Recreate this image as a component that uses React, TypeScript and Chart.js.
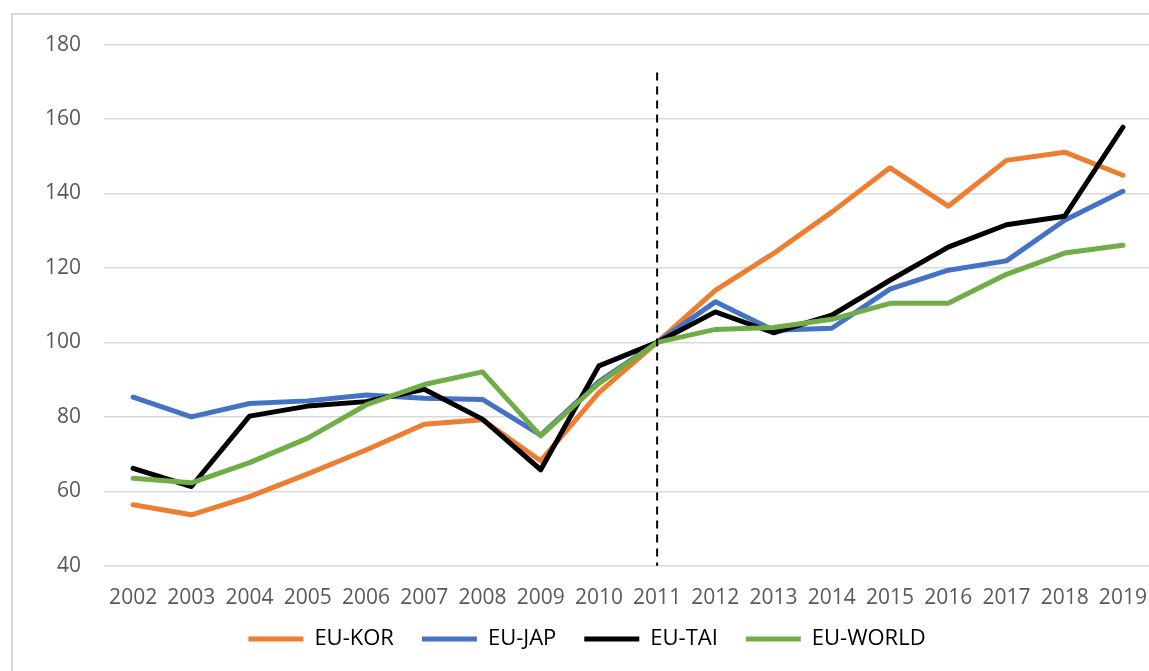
import React, { useEffect, useRef } from "react";
import { Chart, registerables } from "chart.js";

Chart.register(...registerables);

const years = ["2002", "2003", "2004", "2005", "2006", "2007", "2008", "2009", "2010", "2011", "2012", "2013", "2014", "2015", "2016", "2017", "2018", "2019"];
const euKor = [56.4, 53.7, 58.6, 64.7, 71.1, 78.0, 79.2, 68.2, 86.5, 100, 114.0, 123.9, 135.0, 146.9, 136.6, 148.9, 151.1, 144.9];
const euJap = [85.3, 80.0, 83.6, 84.3, 85.9, 85.0, 84.7, 75.1, 89.5, 100, 110.9, 103.3, 103.8, 114.3, 119.4, 121.9, 132.8, 140.6];
const euTai = [66.2, 61.3, 80.2, 82.9, 84.1, 87.4, 79.4, 65.8, 93.7, 100, 108.2, 102.6, 107.3, 116.7, 125.6, 131.6, 133.9, 157.8];
const euWorld = [63.5, 62.3, 67.7, 74.3, 83.2, 88.7, 92.1, 74.9, 89.0, 100, 103.5, 104.0, 106.2, 110.5, 110.5, 118.3, 124.0, 126.1];
const seriesNames = ["EU-KOR", "EU-JAP", "EU-TAI", "EU-WORLD"];
const seriesColors = ["#ED7D31", "#4472C4", "#000000", "#70AD47"];
const yMin = 40;
const yMax = 180;
const yStep = 20;
const markerYear = "2011";
const markerTop = 172.5;
const legendShift = 31;

const markerPlugin = {
  id: "markerLine",
  afterDatasetsDraw(chart: any) {
    const x = chart.scales.x.getPixelForValue(years.indexOf(markerYear));
    const yTop = chart.scales.y.getPixelForValue(markerTop);
    const yBot = chart.scales.y.getPixelForValue(yMin);
    const ctx = chart.ctx;
    ctx.save();
    ctx.strokeStyle = "#000000";
    ctx.lineWidth = 2;
    ctx.setLineDash([8, 6]);
    ctx.beginPath();
    ctx.moveTo(x, yTop);
    ctx.lineTo(x, yBot);
    ctx.stroke();
    ctx.restore();
  },
};

const legendShiftPlugin = {
  id: "legendShift",
  afterLayout(chart: any) {
    const lg = chart.legend;
    if (lg) {
      lg.top -= legendShift;
      lg.bottom -= legendShift;
    }
  },
};

export default function App() {
  const ref = useRef<HTMLCanvasElement | null>(null);
  useEffect(() => {
    if (!ref.current) return;
    const data = [euKor, euJap, euTai, euWorld];
    const chart = new Chart(ref.current, {
      type: "line",
      data: {
        labels: years,
        datasets: data.map((d, i) => ({
          label: seriesNames[i],
          data: d,
          borderColor: seriesColors[i],
          backgroundColor: seriesColors[i],
          borderWidth: 5,
          pointRadius: 0,
          pointHoverRadius: 0,
          tension: 0,
          borderCapStyle: "round" as const,
          borderJoinStyle: "round" as const,
          order: 3 - i,
        })),
      },
      options: {
        animation: false,
        responsive: true,
        maintainAspectRatio: false,
        layout: { padding: { left: 9, right: 17, top: 11, bottom: 4 } },
        plugins: {
          tooltip: { enabled: false },
          legend: {
            position: "bottom",
            labels: {
              usePointStyle: true,
              pointStyle: "line",
              pointStyleWidth: 55,
              color: "#000000",
              font: { family: "Open Sans", size: 22 },
              padding: 28,
              sort: (a: any, b: any) => a.datasetIndex - b.datasetIndex,
            },
          },
        },
        scales: {
          x: {
            offset: true,
            grid: { display: false, drawTicks: false },
            border: { display: false },
            ticks: {
              color: "#595959",
              font: { family: "Open Sans", size: 21 },
              padding: 20,
              maxRotation: 0,
              autoSkip: false,
            },
          },
          y: {
            min: yMin,
            max: yMax,
            grid: { color: "#d9d9d9", lineWidth: 1.5, drawTicks: false },
            border: { display: false },
            ticks: {
              stepSize: yStep,
              color: "#595959",
              font: { family: "Open Sans", size: 21 },
              padding: 23,
            },
          },
        },
      },
      plugins: [markerPlugin, legendShiftPlugin],
    });
    return () => chart.destroy();
  }, []);

  return (
    <div style={{ position: "fixed", left: 0, top: 0, width: 1149, height: 671, overflow: "hidden", background: "#ffffff" }}>
      <div style={{ position: "absolute", left: 11, top: 13, width: 1160, height: 690, border: "2px solid #d9d9d9", boxSizing: "border-box" }}>
        <div style={{ position: "absolute", left: 0, top: -6, width: 1156, height: 686 }}>
          <canvas ref={ref} />
        </div>
      </div>
    </div>
  );
}
